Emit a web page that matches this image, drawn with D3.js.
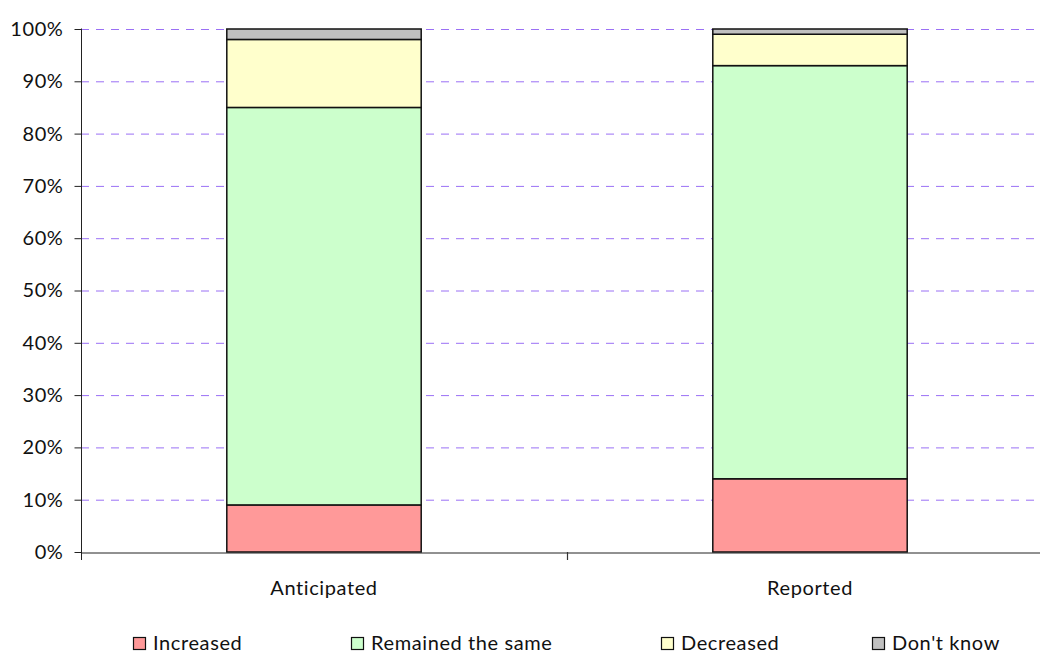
<!DOCTYPE html>
<html lang="en">
<head>
<meta charset="utf-8">
<title>Anticipated vs Reported</title>
<script src="https://d3js.org/d3.v7.min.js"></script>
<style>
    body { margin: 0; background: #fff; }
    text { font-family: Lato, "DejaVu Sans", sans-serif; fill: #111; letter-spacing: 0.6px; }
</style>
</head>
<body>
<div id="s"></div>
<script>
// data
var categories = ["Anticipated", "Reported"];
var seriesNames = ["Increased", "Remained the same", "Decreased", "Don't know"];
var increased = [9, 14];
var remained = [76, 79];
var decreased = [13, 6];
var dontKnow = [2, 1];
var yTicks = [0, 10, 20, 30, 40, 50, 60, 70, 80, 90, 100];

var colors = ["#ff9999", "#ccffcc", "#ffffcc", "#c0c0c0"];

var WIDTH = 1040;
var HEIGHT = 655;

var padL = 81, padR = 1053, padT = 29, padB = 552;

var svg = d3.select("#s")
    .append("svg")
    .attr("width", WIDTH)
    .attr("height", HEIGHT);

var rows = categories.map(function(c, i) {
    return {cat: c, "Increased": increased[i], "Remained the same": remained[i],
            "Decreased": decreased[i], "Don't know": dontKnow[i]};
});
var stacked = d3.stack().keys(seriesNames)(rows);

var x = d3.scaleBand().domain(categories).range([padL, padR]).paddingInner(0).paddingOuter(0);
var y = d3.scaleLinear().domain([0, 100]).range([padB, padT]);

// gridlines
svg.append("g")
    .selectAll("line")
    .data(yTicks.filter(function(d) { return d > 0; }))
    .join("line")
    .attr("x1", padL).attr("x2", padR)
    .attr("y1", function(d) { return y(d) + 0.5; })
    .attr("y2", function(d) { return y(d) + 0.5; })
    .attr("stroke", "#9a70f5")
    .attr("stroke-width", 1)
    .attr("stroke-dasharray", "8,7");

// bars
var barW = x.bandwidth() * 0.4;
svg.append("g")
    .selectAll("g")
    .data(stacked)
    .join("g")
    .attr("fill", function(d, i) { return colors[i]; })
    .selectAll("rect")
    .data(function(d) { return d; })
    .join("rect")
    .attr("x", function(d) { return x(d.data.cat) + (x.bandwidth() - barW) / 2; })
    .attr("y", function(d) { return y(d[1]); })
    .attr("width", barW)
    .attr("height", function(d) { return y(d[0]) - y(d[1]); })
    .attr("stroke", "#111")
    .attr("stroke-width", 1.5);

// y axis
var yAxis = svg.append("g")
    .attr("transform", "translate(" + (padL + 0.5) + ",0)")
    .call(d3.axisLeft(y).tickValues(yTicks).tickSize(7).tickPadding(11)
        .tickFormat(function(d) { return d + "%"; }));
yAxis.select(".domain").attr("stroke", "#222").attr("d", "M0," + (padT - 0.5) + "V" + (padB + 8));
yAxis.selectAll(".tick line").attr("stroke", "#222");
yAxis.selectAll(".tick text").attr("font-size", 20).attr("fill", "#111");

// x axis
var xAxis = svg.append("g")
    .attr("transform", "translate(0," + (padB + 0.5) + ")")
    .call(d3.axisBottom(x).tickSize(0).tickPadding(28));
xAxis.select(".domain").attr("stroke", "#222");
xAxis.selectAll(".tick text").attr("font-size", 20).attr("fill", "#111");
// tick between categories
svg.append("line")
    .attr("x1", x(categories[1]) + 0.5).attr("x2", x(categories[1]) + 0.5)
    .attr("y1", padB).attr("y2", padB + 8)
    .attr("stroke", "#333").attr("stroke-width", 1.2);

// legend
var legendX = [133, 351, 661, 872];
var legend = svg.append("g")
    .selectAll("g")
    .data(seriesNames)
    .join("g")
    .attr("transform", function(d, i) { return "translate(" + legendX[i] + ",637)"; });
legend.append("rect")
    .attr("x", 0.5).attr("y", 0.5)
    .attr("width", 12).attr("height", 12)
    .attr("fill", function(d, i) { return colors[i]; })
    .attr("stroke", "#111").attr("stroke-width", 1.2);
legend.append("text")
    .attr("x", 20).attr("y", 13)
    .attr("font-size", 20)
    .text(function(d) { return d; });
</script>
</body>
</html>
